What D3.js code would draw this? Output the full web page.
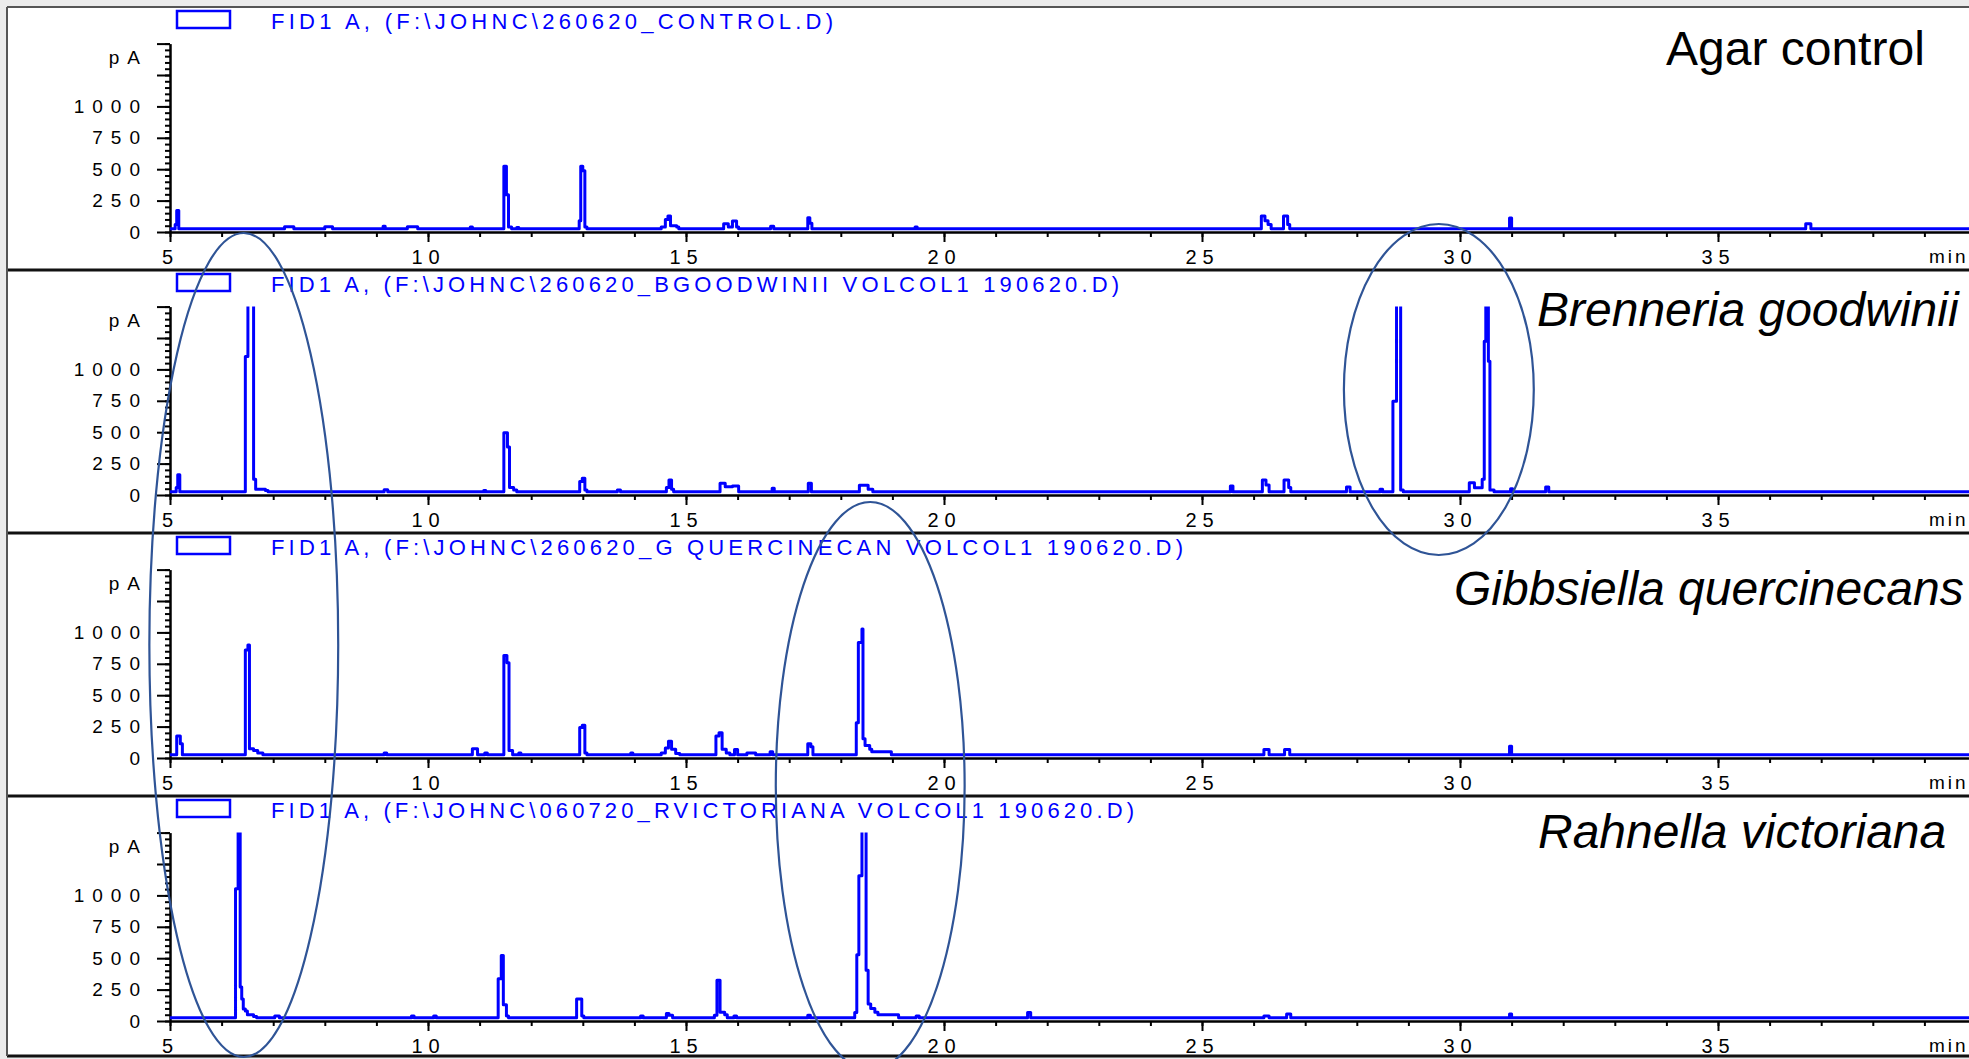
<!DOCTYPE html>
<html>
<head>
<meta charset="utf-8">
<script src="https://cdn.jsdelivr.net/npm/d3@7"></script>
<style>
html, body { margin: 0; padding: 0; background: #ebebeb; overflow: hidden; }
svg { display: block; font-family: "Liberation Sans", Arial, sans-serif; }
</style>
</head>
<body>
<svg id="chart" width="1969" height="1059"></svg>
<script>
// Chromatogram step points: [retention time (min), signal (pA)]
const controlTrace = [
  [5.0, 25], [5.1, 60], [5.13, 172], [5.17, 25],
  [7.22, 42], [7.4, 25], [8.0, 42], [8.15, 25],
  [9.13, 45], [9.17, 25], [9.6, 42], [9.8, 25], [10.82, 40], [10.86, 25],
  [11.47, 524], [11.52, 296], [11.56, 40], [11.62, 25], [11.72, 35], [11.76, 25],
  [12.93, 90], [12.96, 524], [13.0, 487], [13.04, 40], [13.08, 25],
  [14.52, 40], [14.6, 100], [14.65, 127], [14.7, 50], [14.82, 40], [14.86, 25],
  [15.73, 66], [15.82, 40], [15.9, 87], [15.98, 40], [16.02, 25],
  [16.64, 45], [16.7, 25], [17.36, 114], [17.4, 70], [17.44, 25],
  [19.44, 40], [19.48, 25],
  [26.15, 127], [26.22, 90], [26.28, 60], [26.34, 25],
  [26.58, 127], [26.66, 60], [26.7, 25],
  [30.96, 111], [31.0, 25], [36.7, 66], [36.8, 25], [40, 25]
];
const goodwiniiTrace = [
  [5.0, 25], [5.12, 60], [5.15, 161], [5.19, 25],
  [6.46, 1102], [6.51, 1600], [6.62, 126], [6.66, 46], [6.85, 35], [6.9, 25],
  [9.15, 42], [9.22, 25], [11.08, 35], [11.12, 25],
  [11.47, 495], [11.54, 382], [11.58, 60], [11.66, 40], [11.72, 25],
  [12.94, 108], [12.99, 134], [13.04, 40], [13.08, 25], [13.67, 40], [13.73, 25],
  [14.62, 60], [14.67, 119], [14.72, 45], [14.76, 25],
  [15.66, 93], [15.76, 66], [15.9, 72], [16.02, 25],
  [16.67, 53], [16.71, 25], [17.37, 93], [17.43, 25],
  [18.36, 77], [18.53, 45], [18.62, 25],
  [25.55, 72], [25.6, 25], [26.17, 119], [26.24, 80], [26.3, 25],
  [26.59, 119], [26.68, 60], [26.72, 25],
  [27.8, 64], [27.87, 25], [28.45, 45], [28.5, 25],
  [28.7, 747], [28.77, 1600], [28.85, 40], [28.9, 25],
  [30.18, 98], [30.28, 58], [30.43, 125], [30.47, 1224], [30.5, 1600], [30.55, 1065], [30.58, 40], [30.66, 25],
  [30.98, 50], [31.02, 25], [31.66, 64], [31.72, 25], [40, 25]
];
const quercinecansTrace = [
  [5.0, 25], [5.13, 175], [5.2, 113], [5.24, 25],
  [6.46, 860], [6.51, 900], [6.54, 73], [6.62, 60], [6.7, 40], [6.8, 25],
  [9.15, 40], [9.2, 25], [10.86, 73], [10.96, 25], [11.1, 40], [11.15, 25],
  [11.47, 817], [11.53, 758], [11.57, 60], [11.64, 25], [11.76, 40], [11.8, 25],
  [12.94, 242], [12.99, 261], [13.04, 40], [13.08, 25], [13.93, 40], [13.97, 25],
  [14.52, 40], [14.6, 80], [14.66, 134], [14.72, 70], [14.8, 35], [14.88, 25],
  [15.58, 175], [15.64, 202], [15.7, 70], [15.78, 40], [15.85, 25],
  [15.94, 67], [16.0, 25], [16.18, 40], [16.35, 25], [16.63, 50], [16.68, 25],
  [17.36, 113], [17.42, 90], [17.46, 25],
  [18.3, 280], [18.34, 919], [18.41, 1027], [18.43, 153], [18.47, 100], [18.56, 70], [18.6, 50], [18.98, 25],
  [26.2, 67], [26.3, 25], [26.6, 67], [26.7, 25],
  [30.96, 93], [31.0, 25], [40, 25]
];
const victorianaTrace = [
  [5.0, 25],
  [6.27, 1053], [6.32, 1600], [6.36, 270], [6.39, 175], [6.42, 95], [6.46, 80], [6.5, 50], [6.62, 35], [6.68, 25],
  [7.03, 40], [7.12, 25], [9.68, 40], [9.73, 25], [10.11, 40], [10.16, 25],
  [11.36, 337], [11.42, 521], [11.46, 130], [11.52, 40], [11.56, 25],
  [12.88, 175], [12.98, 40], [13.02, 25], [14.12, 40], [14.17, 25],
  [14.62, 60], [14.67, 45], [14.74, 25],
  [15.55, 46], [15.6, 324], [15.66, 70], [15.75, 50], [15.8, 25], [15.93, 40], [15.98, 25],
  [17.36, 45], [17.41, 25],
  [18.27, 68], [18.31, 527], [18.35, 1156], [18.41, 1600], [18.49, 405], [18.53, 135], [18.58, 100], [18.66, 70], [18.72, 50], [19.12, 25],
  [19.46, 40], [19.52, 25], [21.62, 68], [21.68, 25],
  [26.2, 40], [26.3, 25], [26.64, 55], [26.72, 25],
  [30.96, 55], [31.0, 25], [40, 25]
];

const traces = [controlTrace, goodwiniiTrace, quercinecansTrace, victorianaTrace];
const legendLabels = [
  "FID1 A, (F:\\JOHNC\\260620_CONTROL.D)",
  "FID1 A, (F:\\JOHNC\\260620_BGOODWINII VOLCOL1 190620.D)",
  "FID1 A, (F:\\JOHNC\\260620_G QUERCINECAN VOLCOL1 190620.D)",
  "FID1 A, (F:\\JOHNC\\060720_RVICTORIANA VOLCOL1 190620.D)"
];
const sampleTitles = ["Agar control", "Brenneria goodwinii", "Gibbsiella quercinecans", "Rahnella victoriana"];
const titleItalic = [false, true, true, true];
const xMajorTicks = [5, 10, 15, 20, 25, 30, 35];
const yMajorTicks = [0, 250, 500, 750, 1000, 1250, 1500];
const yLabelledTicks = [0, 250, 500, 750, 1000];
// highlighted regions: centre time and half-width (min)
const highlightTimes = [[6.43, 1.83], [29.59, 1.84], [18.57, 1.83]];

// ---- layout ----
const width = 1969, height = 1059;
const frameLeft = 7, frameBottom = 1056;
const panelTop = [7, 270, 533, 796];
const axisDrop = 225;          // panel top -> x axis
const plotLeft = 170;
const pxPerMin = 51.6;
const pxPer1500 = 188.4;
const legendLen = [562, 848, 912, 863];
const titleX = [1666, 1537, 1454, 1538];
const titleDy = [58, 56, 72, 52];
const highlightY = [[233, 1057], [224, 555], [502, 1070]];

const blue = "#0000ff";
const svg = d3.select("#chart");

const x = d3.scaleLinear().domain([5, 40]).range([plotLeft, plotLeft + 35 * pxPerMin]);

// white slide area
svg.append("rect")
  .attr("x", frameLeft).attr("y", panelTop[0])
  .attr("width", width - frameLeft).attr("height", frameBottom - panelTop[0])
  .attr("fill", "#fff");

traces.forEach((trace, i) => {
  const top = panelTop[i];
  const axisY = top + axisDrop;
  const y = d3.scaleLinear().domain([0, 1500]).range([axisY, axisY - pxPer1500]);
  const g = svg.append("g");

  // clip so off-scale peaks stop at the top of the axis
  svg.append("clipPath").attr("id", "clip" + i)
    .append("rect")
    .attr("x", plotLeft - 2).attr("y", y(1500))
    .attr("width", width - plotLeft + 2).attr("height", axisY - y(1500) + 2);

  // x axis: minor ticks each minute, labelled every 5
  g.append("g").attr("transform", `translate(0,${axisY})`)
    .call(d3.axisBottom(x).tickValues(d3.range(5, 40, 1)).tickSize(5).tickSizeOuter(0).tickFormat(""))
    .call(a => a.select(".domain").remove())
    .selectAll("line").attr("stroke", "#000").attr("stroke-width", 2);
  const xa = g.append("g").attr("transform", `translate(0,${axisY})`)
    .call(d3.axisBottom(x).tickValues(xMajorTicks).tickSize(10).tickSizeOuter(0).tickPadding(8));
  xa.select(".domain").attr("stroke", "#000").attr("stroke-width", 2.5);
  xa.selectAll("line").attr("stroke", "#000").attr("stroke-width", 2);
  xa.selectAll("text")
    .attr("font-family", "Liberation Sans, Arial, sans-serif")
    .attr("font-size", 20).attr("fill", "#000")
    .attr("letter-spacing", "6px");

  g.append("text")
    .attr("x", 1929).attr("y", axisY + 31)
    .attr("font-size", 19).attr("letter-spacing", "3px")
    .text("min");

  // y axis: minor ticks every 50 pA
  g.append("g").attr("transform", `translate(${plotLeft},0)`)
    .call(d3.axisLeft(y).tickValues(d3.range(0, 1501, 50)).tickSize(5).tickSizeOuter(0).tickFormat(""))
    .call(a => a.select(".domain").remove())
    .selectAll("line").attr("stroke", "#000").attr("stroke-width", 2);
  const ya = g.append("g").attr("transform", `translate(${plotLeft},0)`)
    .call(d3.axisLeft(y).tickValues(yMajorTicks).tickSize(13).tickSizeOuter(0).tickPadding(9)
      .tickFormat(d => yLabelledTicks.includes(d) ? d : ""));
  ya.select(".domain").attr("stroke", "#000").attr("stroke-width", 2.5);
  ya.selectAll("line").attr("stroke", "#000").attr("stroke-width", 2);
  ya.selectAll("text")
    .attr("font-family", "Liberation Sans, Arial, sans-serif")
    .attr("font-size", 19).attr("fill", "#000")
    .attr("letter-spacing", "8px");

  g.append("text")
    .attr("x", plotLeft - 22).attr("y", y(1390))
    .attr("dy", "0.35em")
    .attr("text-anchor", "end")
    .attr("font-size", 19).attr("letter-spacing", "8px")
    .text("pA");

  // signal
  const line = d3.line()
    .x(d => x(d[0]))
    .y(d => y(d[1]))
    .curve(d3.curveStepAfter);
  g.append("path")
    .datum(trace)
    .attr("clip-path", `url(#clip${i})`)
    .attr("d", line)
    .attr("fill", "none")
    .attr("stroke", blue)
    .attr("stroke-width", 3)
    .attr("stroke-linejoin", "round");

  // legend swatch + file label
  g.append("rect")
    .attr("x", 177).attr("y", top + 4)
    .attr("width", 53).attr("height", 17)
    .attr("fill", "none").attr("stroke", blue).attr("stroke-width", 2.5);
  g.append("text")
    .attr("x", 271).attr("y", top + 22)
    .attr("font-size", 22).attr("fill", blue)
    .attr("textLength", legendLen[i]).attr("lengthAdjust", "spacing")
    .text(legendLabels[i]);

  // sample name
  g.append("text")
    .attr("x", titleX[i]).attr("y", top + titleDy[i])
    .attr("font-size", 48)
    .attr("font-style", titleItalic[i] ? "italic" : "normal")
    .attr("fill", "#000")
    .text(sampleTitles[i]);
});

// frame lines
svg.append("line").attr("x1", frameLeft).attr("x2", width)
  .attr("y1", panelTop[0]).attr("y2", panelTop[0])
  .attr("stroke", "#555").attr("stroke-width", 2);
panelTop.slice(1).concat([frameBottom]).forEach(yy => {
  svg.append("line").attr("x1", frameLeft).attr("x2", width)
    .attr("y1", yy).attr("y2", yy)
    .attr("stroke", "#111").attr("stroke-width", 3);
});
svg.append("line").attr("x1", frameLeft).attr("x2", frameLeft)
  .attr("y1", panelTop[0]).attr("y2", frameBottom)
  .attr("stroke", "#555").attr("stroke-width", 2);

// highlight ellipses
highlightTimes.forEach((h, i) => {
  const [y0, y1] = highlightY[i];
  svg.append("ellipse")
    .attr("cx", x(h[0]))
    .attr("cy", (y0 + y1) / 2)
    .attr("rx", x(h[0] + h[1]) - x(h[0]))
    .attr("ry", (y1 - y0) / 2)
    .attr("fill", "none")
    .attr("stroke", "#2f5496")
    .attr("stroke-width", 2.2);
});
</script>
</body>
</html>
